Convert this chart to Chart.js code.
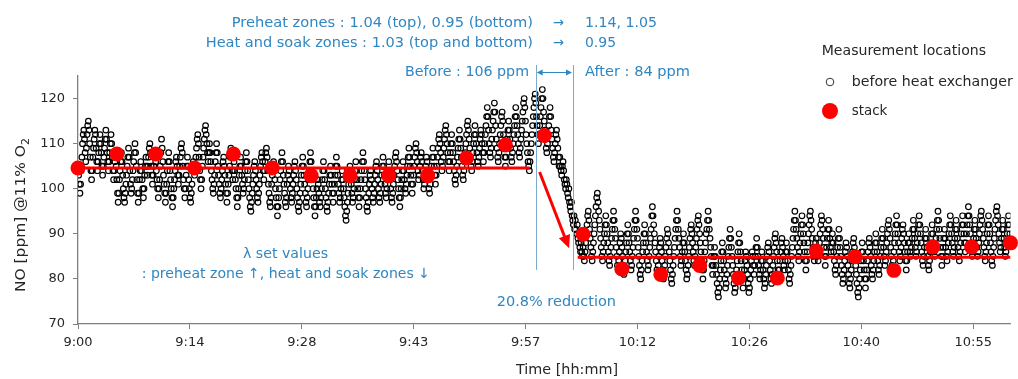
<!DOCTYPE html>
<html>
<head>
<meta charset="utf-8">
<script src="https://cdn.jsdelivr.net/npm/chart.js@4.4.1/dist/chart.umd.min.js"></script>
<style>
  html, body { margin: 0; padding: 0; background: #ffffff; }
  #wrap { width: 1018px; height: 379px; position: relative; }
</style>
</head>
<body>
<div id="wrap"><canvas id="c"></canvas></div>
<script>
// ---------- DATA ----------
// x axis ticks (minutes after midnight; major unit = 0.01 day = 14.4 min)
const xTickMinutes = [540, 554.4, 568.8, 583.2, 597.6, 612, 626.4, 640.8, 655.2];
const xTickLabels  = ['9:00', '9:14', '9:28', '9:43', '9:57', '10:12', '10:26', '10:40', '10:55'];
const yTickValues  = [70, 80, 90, 100, 110, 120];

// NO before heat exchanger [ppm @11% O2], sampled every 5 s, one array per 10 min block (12 values per minute)
const noBeforeHX_0900 = [
  105,103,101,99,101,104,107,110,112,113,111,108, 106,109,112,114,115,113,110,107,104,102,104,107,
  109,111,113,112,109,106,104,106,108,110,112,110, 108,105,103,105,107,109,111,113,111,108,106,104,
  106,108,110,112,110,107,104,102,104,106,108,105, 102,99,97,99,102,104,106,108,106,103,100,98,
  97,99,101,103,105,107,109,107,104,101,99,100, 102,104,106,108,110,108,105,102,99,97,99,102,
  104,106,104,102,100,98,100,103,105,107,105,103, 105,107,109,110,108,105,103,101,103,105,107,108];
const noBeforeHX_0910 = [
  106,104,102,100,98,100,102,105,108,111,109,106, 103,101,99,97,99,101,104,106,108,106,104,102,
  100,98,96,98,100,102,104,106,107,105,103,101, 103,105,107,109,110,108,105,102,100,98,100,103,
  105,107,105,102,100,98,97,99,101,104,106,105, 103,105,107,109,111,112,110,107,104,102,100,102,
  105,107,109,111,113,114,112,110,108,106,108,110, 108,106,104,102,100,99,101,103,106,108,110,108,
  105,103,101,99,98,100,102,104,106,107,105,103, 101,99,97,99,101,103,105,107,109,107,104,102];
const noBeforeHX_0920 = [
  104,106,104,102,100,98,96,98,100,103,105,107, 105,103,101,99,100,102,104,106,108,106,104,102,
  100,98,96,95,97,99,101,103,105,106,104,102, 100,98,97,99,101,103,105,107,108,106,104,102,
  104,106,108,109,107,104,101,99,97,96,98,101, 103,105,106,104,102,100,98,96,94,96,98,100,
  102,104,106,108,106,103,101,99,97,96,98,101, 103,105,104,102,100,98,97,99,101,103,105,106,
  104,102,100,98,96,95,97,99,101,103,105,107, 105,103,101,99,97,96,98,100,102,104,106,108];
const noBeforeHX_0930 = [
  106,104,102,100,98,96,94,96,98,100,102,101, 99,97,96,98,100,102,104,106,104,102,100,98,
  96,95,97,99,101,103,105,103,101,99,97,99, 101,103,105,107,105,103,101,99,97,98,100,102,
  104,102,100,98,96,94,93,95,97,99,101,103, 105,103,101,99,97,98,100,102,104,106,104,102,
  100,98,96,98,100,102,104,106,108,106,104,102, 100,98,96,95,97,99,101,103,104,102,100,98,
  97,99,101,103,105,106,104,102,100,98,97,99, 101,103,105,107,105,103,101,99,98,100,102,104];
const noBeforeHX_0940 = [
  106,104,102,100,98,97,99,101,103,105,107,108, 106,104,102,100,98,96,98,100,102,104,106,104,
  102,100,99,101,103,105,107,109,107,105,103,101, 99,101,103,105,107,109,110,108,106,104,102,103,
  105,107,108,106,104,102,100,101,103,105,107,106, 104,102,100,99,101,103,105,107,109,107,105,103,
  101,103,105,107,109,111,112,110,108,106,104,105, 107,109,111,113,114,112,110,108,106,104,106,108,
  110,112,110,108,106,104,102,101,103,105,107,109, 111,113,111,109,107,105,103,102,104,106,108,110];
const noBeforeHX_0950 = [
  112,114,115,113,111,109,107,105,104,106,108,110, 112,114,112,110,108,106,105,107,109,111,113,112,
  110,108,106,108,110,112,114,116,118,116,113,110, 108,107,109,111,113,115,117,119,117,114,111,109,
  107,106,108,110,112,114,116,117,115,112,109,107, 105,107,109,111,113,115,113,111,109,107,106,108,
  110,112,114,116,118,116,114,112,110,108,107,109, 111,113,115,117,119,120,118,115,112,110,108,106,
  105,104,106,108,110,112,114,116,118,120,121,119, 116,114,112,110,112,114,116,118,120,122,120,117];
const noBeforeHX_1000 = [
  115,113,111,109,108,110,112,114,116,118,116,113, 111,109,107,106,108,110,112,113,111,109,107,105,
  107,105,104,103,105,106,104,102,101,100,102,101, 99,98,100,97,96,95,97,94,93,92,94,91,
  93,91,90,92,89,88,90,87,86,88,86,85, 87,85,84,86,88,90,92,94,95,93,91,89,
  87,85,84,86,88,90,92,94,96,98,99,97, 95,93,91,89,87,85,84,86,88,90,92,94,
  92,90,88,86,84,83,85,87,89,91,93,95, 93,91,89,87,85,83,82,84,86,88,90,89];
const noBeforeHX_1010 = [
  87,85,83,81,82,84,86,88,90,92,90,88, 86,84,82,83,85,87,89,91,93,95,93,91,
  89,87,85,83,81,80,82,84,86,88,90,92, 90,88,86,84,82,83,85,87,89,91,94,96,
  94,92,90,88,86,84,82,81,83,85,87,89, 88,86,84,82,80,81,83,85,87,89,91,90,
  88,86,84,82,80,79,81,83,85,87,89,91, 93,95,93,91,89,87,85,83,84,86,88,90,
  88,86,84,82,80,81,83,85,87,89,91,92, 90,88,86,84,83,85,87,89,91,93,94,92];
const noBeforeHX_1020 = [
  90,88,86,84,82,80,82,84,86,88,90,91, 93,95,93,91,89,87,85,83,81,83,85,87,
  85,83,81,79,77,76,78,80,82,84,86,88, 86,84,82,80,78,79,81,83,85,87,89,91,
  89,87,85,83,81,79,77,78,80,82,84,86, 88,90,88,86,84,82,80,78,80,82,84,86,
  85,83,81,79,77,78,80,82,84,86,85,83, 81,83,85,87,89,87,85,83,81,80,82,84,
  86,84,82,80,78,79,81,83,85,87,88,86, 84,82,80,79,81,83,85,87,89,90,88,86];
const noBeforeHX_1030 = [
  84,82,80,82,84,86,88,89,87,85,83,82, 84,86,88,86,84,82,80,79,81,83,85,87,
  89,91,93,95,93,91,89,87,85,84,86,88, 90,92,94,92,90,88,86,84,82,84,86,88,
  90,92,94,95,93,91,89,87,85,84,86,88, 89,87,85,84,86,88,90,92,94,93,91,89,
  87,85,83,85,87,89,91,93,91,89,87,86, 88,90,88,86,84,82,81,83,85,87,89,91,
  89,87,85,83,81,79,80,82,84,86,88,87, 85,83,81,79,78,80,82,84,86,88,89,87];
const noBeforeHX_1040 = [
  85,83,81,79,77,76,78,80,82,84,86,88, 86,84,82,80,78,80,82,84,86,88,89,87,
  85,83,81,80,82,84,86,88,90,88,86,84, 82,81,83,85,87,89,91,89,87,85,83,84,
  86,88,90,92,93,91,89,87,85,83,82,84, 86,88,90,92,94,92,90,88,86,84,85,87,
  89,91,92,90,88,86,84,82,84,86,88,90, 88,86,85,87,89,91,93,91,89,87,85,86,
  88,90,92,94,92,90,88,86,84,83,85,87, 89,91,89,87,85,83,82,84,86,88,90,92];
const noBeforeHX_1050 = [
  90,88,86,85,87,89,91,93,95,93,91,89, 87,85,83,85,87,89,91,89,87,85,84,86,
  88,90,92,94,92,90,88,86,85,87,89,91, 93,91,89,87,85,84,86,88,90,92,94,92,
  90,88,86,88,90,92,94,96,94,92,90,88, 86,85,87,89,91,93,91,89,87,85,86,88,
  90,92,94,95,93,91,89,87,85,84,86,88, 90,92,94,92,90,88,86,84,83,85,87,89,
  91,93,95,96,94,92,90,88,86,87,89,91, 93,91,89,87,85,86,88,90,92,94,92,90];
const noBlocks = [
  [540, noBeforeHX_0900], [550, noBeforeHX_0910], [560, noBeforeHX_0920], [570, noBeforeHX_0930],
  [580, noBeforeHX_0940], [590, noBeforeHX_0950], [600, noBeforeHX_1000], [610, noBeforeHX_1010],
  [620, noBeforeHX_1020], [630, noBeforeHX_1030], [640, noBeforeHX_1040], [650, noBeforeHX_1050]
];
const sampleStepMin = 5 / 60;

// NO at the stack, every 5 min from 9:00 to 11:00
const stackMinutes = [540,545,550,555,560,565,570,575,580,585,590,595,600,605,610,615,620,625,630,635,640,645,650,655,660];
const stackValues  = [104.6,107.7,107.7,104.6,107.7,104.6,102.9,102.9,102.9,102.9,106.8,109.7,111.8,89.9,82.2,81.0,83.0,80.2,80.2,86.2,84.9,81.9,87.1,87.1,88.0];

// average levels before / after the change
const beforeLevel = { from: 540, to: 598.1, value: 104.6 };
const afterLevel  = { from: 604.3, to: 660, value: 84.8 };
// change window (blue lines) and reduction arrow (data units)
const changeStartMin = 598.9, changeEndMin = 603.7;
const reductionArrow = { x1: 599.4, y1: 103.7, x2: 603.2, y2: 86.8 };

// ---------- BUILD ----------
const noPoints = [];
noBlocks.forEach(([start, arr]) => arr.forEach((v, i) => noPoints.push({ x: start + i * sampleStepMin, y: v })));
const stackPoints = stackMinutes.map((m, i) => ({ x: m, y: stackValues[i] }));

const FONT = '"DejaVu Sans", Verdana, sans-serif';
const BLUE = '#2f86c2';
const BLUE_LINE = '#7eaacb';
const RED = '#ff0000';
const TXT = '#262626';
const AXIS = '#808080';

function fitText(ctx, str, left, right, cy, color, size) {
  ctx.save();
  ctx.font = size + 'px ' + FONT;
  const w = ctx.measureText(str).width;
  const sx = (right - left) / w;
  ctx.translate(left, cy);
  ctx.scale(sx, 1);
  ctx.textBaseline = 'middle';
  ctx.textAlign = 'left';
  ctx.fillStyle = color;
  ctx.fillText(str, 0, 0);
  ctx.restore();
}

function arrowHead(ctx, x, y, ang, len, half, color) {
  ctx.save();
  ctx.translate(x, y);
  ctx.rotate(ang);
  ctx.beginPath();
  ctx.moveTo(0, 0);
  ctx.lineTo(-len, -half);
  ctx.lineTo(-len, half);
  ctx.closePath();
  ctx.fillStyle = color;
  ctx.fill();
  ctx.restore();
}

const annotations = {
  id: 'annotations',
  afterDatasetsDraw(chart) {
    const ctx = chart.ctx;
    const xs = chart.scales.x, ys = chart.scales.y;
    // blue vertical lines
    const xa = xs.getPixelForValue(changeStartMin), xb = xs.getPixelForValue(changeEndMin);
    ctx.save();
    ctx.strokeStyle = BLUE_LINE;
    ctx.lineWidth = 1;
    [xa, xb].forEach(x => {
      ctx.beginPath(); ctx.moveTo(Math.round(x) + 0.5, 65); ctx.lineTo(Math.round(x) + 0.5, 270); ctx.stroke();
    });
    // double arrow
    ctx.strokeStyle = BLUE;
    ctx.beginPath(); ctx.moveTo(xa + 4, 72.5); ctx.lineTo(xb - 4, 72.5); ctx.stroke();
    ctx.restore();
    arrowHead(ctx, xa + 1, 72.5, Math.PI, 6, 3, BLUE);
    arrowHead(ctx, xb - 1, 72.5, 0, 6, 3, BLUE);

    // red reduction arrow
    const p1x = xs.getPixelForValue(reductionArrow.x1), p1y = ys.getPixelForValue(reductionArrow.y1);
    const p2x = xs.getPixelForValue(reductionArrow.x2), p2y = ys.getPixelForValue(reductionArrow.y2);
    const ang = Math.atan2(p2y - p1y, p2x - p1x);
    ctx.save();
    ctx.strokeStyle = RED; ctx.lineWidth = 3;
    ctx.beginPath(); ctx.moveTo(p1x, p1y);
    ctx.lineTo(p2x - 10 * Math.cos(ang), p2y - 10 * Math.sin(ang)); ctx.stroke();
    ctx.restore();
    arrowHead(ctx, p2x, p2y, ang, 13, 6, RED);

    // texts
    fitText(ctx, 'Preheat zones : 1.04 (top), 0.95 (bottom)', 231.7, 533, 23, BLUE, 14);
    fitText(ctx, '\u2192', 553, 564, 23, BLUE, 14);
    fitText(ctx, '1.14, 1.05', 585, 657, 23, BLUE, 14);
    fitText(ctx, 'Heat and soak zones : 1.03 (top and bottom)', 205.7, 533, 43.5, BLUE, 14);
    fitText(ctx, '\u2192', 553, 564, 43.5, BLUE, 14);
    fitText(ctx, '0.95', 585, 616, 43.5, BLUE, 14);
    fitText(ctx, 'Before : 106 ppm', 405, 529, 72, BLUE, 14);
    fitText(ctx, 'After : 84 ppm', 585, 690, 72, BLUE, 14);
    fitText(ctx, '\u03BB set values', 243, 328, 254, BLUE, 14);
    fitText(ctx, ': preheat zone \u2191, heat and soak zones \u2193', 141.7, 430, 274.5, BLUE, 14);
    fitText(ctx, '20.8% reduction', 496.7, 616, 302.7, BLUE, 14);

    // legend
    fitText(ctx, 'Measurement locations', 821.7, 986, 51.5, TXT, 14);
    ctx.save();
    ctx.strokeStyle = '#333'; ctx.lineWidth = 1;
    ctx.beginPath(); ctx.arc(830, 82, 3.8, 0, Math.PI * 2); ctx.stroke();
    ctx.fillStyle = RED;
    ctx.beginPath(); ctx.arc(830, 111, 8, 0, Math.PI * 2); ctx.fill();
    ctx.restore();
    fitText(ctx, 'before heat exchanger', 851.7, 1012.7, 82, TXT, 14);
    fitText(ctx, 'stack', 851.7, 887.3, 111, TXT, 14);

    // axis titles
    fitText(ctx, 'Time [hh:mm]', 516, 618, 370, TXT, 14);
    ctx.save();
    ctx.translate(21, 292);
    ctx.rotate(-Math.PI / 2);
    ctx.font = '14px ' + FONT;
    const main = 'NO [ppm] @11% O';
    const wMain = ctx.measureText(main).width;
    ctx.font = '10px ' + FONT;
    const wSub = ctx.measureText('2').width;
    const sx = 154 / (wMain + wSub);
    ctx.scale(sx, 1);
    ctx.fillStyle = TXT;
    ctx.textBaseline = 'middle';
    ctx.font = '14px ' + FONT;
    ctx.fillText(main, 0, 0);
    ctx.font = '10px ' + FONT;
    ctx.fillText('2', wMain, 5);
    ctx.restore();
  }
};

new Chart(document.getElementById('c'), {
  type: 'scatter',
  data: {
    datasets: [
      {
        label: 'stack',
        data: stackPoints,
        showLine: false,
        pointRadius: 7.5,
        pointStyle: 'circle',
        backgroundColor: RED,
        borderColor: RED,
        borderWidth: 0,
        order: 1,
        clip: false
      },
      {
        label: 'before level',
        type: 'line',
        data: [{ x: beforeLevel.from, y: beforeLevel.value }, { x: beforeLevel.to, y: beforeLevel.value }],
        borderColor: RED,
        borderWidth: 3,
        pointRadius: 0,
        order: 2
      },
      {
        label: 'after level',
        type: 'line',
        data: [{ x: afterLevel.from, y: afterLevel.value }, { x: afterLevel.to, y: afterLevel.value }],
        borderColor: RED,
        borderWidth: 3,
        pointRadius: 0,
        order: 2
      },
      {
        label: 'before heat exchanger',
        data: noPoints,
        showLine: false,
        pointRadius: 2.8,
        pointStyle: 'circle',
        backgroundColor: 'rgba(0,0,0,0)',
        borderColor: '#000000',
        borderWidth: 1.2,
        order: 3
      }
    ]
  },
  options: {
    responsive: true,
    maintainAspectRatio: false,
    animation: false,
    layout: { padding: { top: 76, right: 0, left: 0, bottom: 0 } },
    plugins: { legend: { display: false }, tooltip: { enabled: false } },
    scales: {
      x: {
        type: 'linear',
        min: 540,
        max: 660,
        afterFit(scale) { scale.height = 55; },
        afterBuildTicks(scale) { scale.ticks = xTickMinutes.map(v => ({ value: v })); },
        ticks: {
          autoSkip: false,
          maxRotation: 0,
          padding: 6,
          color: TXT,
          font: { family: FONT, size: 13 },
          callback: (v, i) => xTickLabels[i]
        },
        grid: { drawOnChartArea: false, drawTicks: true, tickLength: 5, color: AXIS, lineWidth: 1 },
        border: { display: true, color: AXIS, width: 1.3 }
      },
      y: {
        min: 70,
        max: 125,
        afterFit(scale) { scale.width = 78; },
        afterBuildTicks(scale) { scale.ticks = yTickValues.map(v => ({ value: v })); },
        ticks: {
          padding: 8,
          color: TXT,
          font: { family: FONT, size: 13 },
          callback: v => String(v)
        },
        grid: { drawOnChartArea: false, drawTicks: true, tickLength: 5, color: AXIS, lineWidth: 1 },
        border: { display: true, color: AXIS, width: 1.3 }
      }
    }
  },
  plugins: [annotations]
});
</script>
</body>
</html>
